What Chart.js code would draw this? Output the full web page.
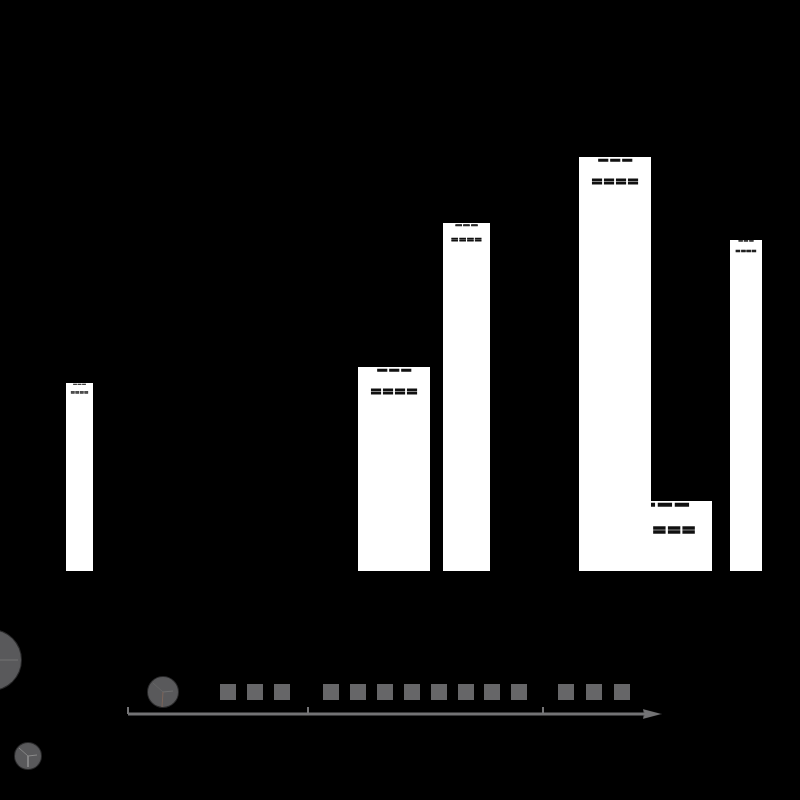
<!DOCTYPE html>
<html><head><meta charset="utf-8">
<style>html,body{margin:0;padding:0;background:#000}canvas{display:block}</style>
<script src="https://cdn.jsdelivr.net/npm/chart.js@4"></script>
</head><body><div style="width:800px;height:800px"><canvas id="c" width="800" height="800"></canvas></div>
<script>
const barX = [79.5, 394, 466.5, 615, 668, 746];
const barW = [27, 72, 47, 72, 88, 32];
const barValues = [188, 204, 348, 414, 70, 331];
const topLabels = ['−−−', '−−−', '−−−', '−−−', '−−−', '−−−'];
const lowerLabels = ['====', '====', '====', '====', '===', '===='];
const squareX = [228, 255, 282, 331, 358, 385, 412, 439, 466, 492, 519, 566, 594, 622];
const squareY = squareX.map(() => -121);
const axisX = [128, 652];
const axisY = [-143, -143];
const tickX = [128, 308, 543];
const tickTop = -136;
const circleX = [163, -9, 28];
const circleY = [-121, -89, -185];
const circleR = [15, 30, 13];
const spokes = [
  [[163,-121],[162,-136],'#7d6559'], [[163,-121],[173,-120],'#6f6f6f'], [[163,-121],[153,-112],'#666666'],
  [[-9,-89],[18,-89],'#747474'],
  [[28,-185],[28,-196],'#8a8a8a'], [[28,-185],[37,-184],'#8a8a8a'], [[28,-185],[19,-177],'#858585']
];
const GRAY = '#666668';
const AXIS = '#737375';

const arrowHead = document.createElement('canvas');
arrowHead.width = 19; arrowHead.height = 12;
(() => {
  const a = arrowHead.getContext('2d');
  a.fillStyle = AXIS;
  a.beginPath(); a.moveTo(0, 1); a.lineTo(19, 6); a.lineTo(0, 11); a.lineTo(2, 6); a.closePath(); a.fill();
})();

const labelStyle = {
  topScale: [1, 1, 1, 1, 1.15, 1],
  topShift: [0, 0, 0, 0, -3, 0],
  lowerShift: [0, 0, 0, 0, 6, 0]
};

const barSets = barX.map((x, i) => ({
  type: 'bar', label: 'bar' + i, data: [{x, y: barValues[i]}], barThickness: barW[i],
  backgroundColor: '#fff', borderWidth: 0, inflateAmount: 0, grouped: false, order: 5, labelIndex: i
}));
const tickSets = tickX.map(x => ({
  type: 'line', data: [{x, y: axisY[0]}, {x, y: tickTop}], borderColor: AXIS, borderWidth: 2, pointRadius: 0, order: 2
}));
const spokeSets = spokes.map(s => ({
  type: 'line', data: [{x: s[0][0], y: s[0][1]}, {x: s[1][0], y: s[1][1]}], borderColor: s[2], borderWidth: 1, pointRadius: 0, order: 0, clip: false
}));
const labelPlugin = {
  id: 'labels',
  afterDatasetDraw(chart, args) {
    const ds = chart.data.datasets[args.index];
    if (ds.labelIndex === undefined) return;
    const i = ds.labelIndex, ctx = chart.ctx;
    const px = chart.scales.x.getPixelForValue(barX[i]);
    const py = chart.scales.y.getPixelForValue(barValues[i]);
    const fs = barW[i] * 0.2;
    const put = (text, size, x, y) => {
      ctx.font = 'bold ' + size + 'px "DejaVu Sans"';
      ctx.lineWidth = size * 0.08;
      ctx.fillText(text, x, y);
      ctx.strokeText(text, x, y);
    };
    ctx.save();
    ctx.fillStyle = '#111111'; ctx.strokeStyle = '#111111';
    ctx.textAlign = 'center'; ctx.textBaseline = 'middle';
    put(topLabels[i], fs * labelStyle.topScale[i], px + labelStyle.topShift[i], py + fs * 0.28);
    put(lowerLabels[i], fs, px + labelStyle.lowerShift[i], py + fs * 1.75);
    ctx.restore();
  }
};
new Chart(document.getElementById('c'), {
  type: 'bar',
  data: { datasets: [
    ...barSets,
    ...tickSets,
    { type: 'line', data: axisX.map((x, i) => ({x, y: axisY[i]})), borderColor: AXIS, borderWidth: 3,
      pointStyle: ['line', arrowHead], pointRadius: [0, 10],
      pointBorderWidth: 0, order: 2 },
    { type: 'scatter', data: squareX.map((x, i) => ({x, y: squareY[i]})), pointStyle: 'rect', pointRadius: 11.3,
      backgroundColor: GRAY, borderWidth: 0, order: 2 },
    { type: 'scatter', data: circleX.map((x, i) => ({x, y: circleY[i]})), pointStyle: 'circle', pointRadius: circleR,
      backgroundColor: '#59595b', borderColor: 'rgba(89,89,91,0.45)', borderWidth: 2, order: 1, clip: false },
    ...spokeSets
  ]},
  options: {
    responsive: false, animation: false, devicePixelRatio: 1,
    layout: { padding: 0, autoPadding: false },
    plugins: { legend: { display: false }, tooltip: { enabled: false } },
    scales: {
      x: { type: 'linear', min: 0, max: 800, offset: false, display: false },
      y: { type: 'linear', min: -229, max: 571, display: false }
    }
  },
  plugins: [labelPlugin]
});
</script></body></html>
